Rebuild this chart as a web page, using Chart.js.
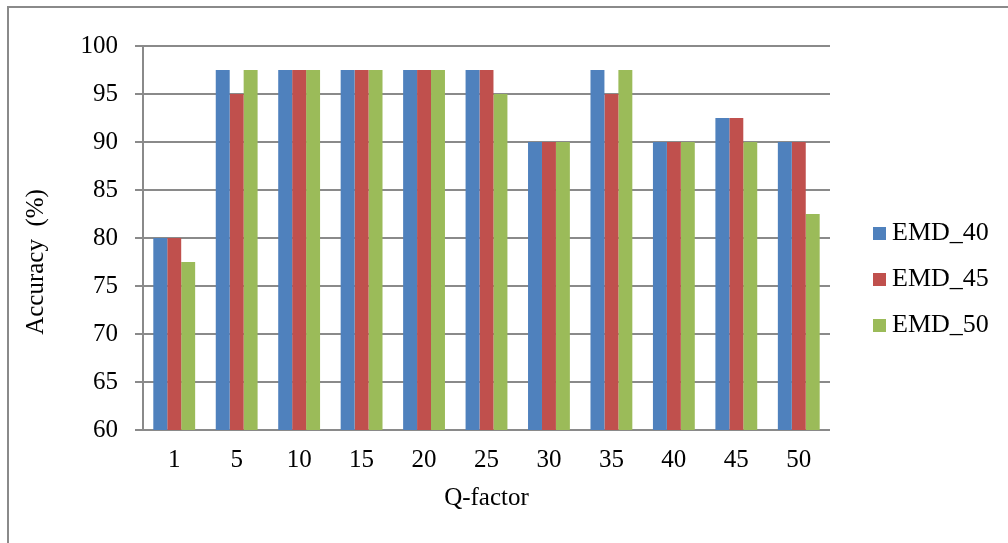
<!DOCTYPE html>
<html>
<head>
<meta charset="utf-8">
<script src="https://cdn.jsdelivr.net/npm/chart.js@4.4.1/dist/chart.umd.min.js"></script>
<style>
  html, body { margin: 0; padding: 0; background: #ffffff; }
  #wrap { position: relative; width: 1008px; height: 543px; overflow: hidden; }
  #frame { position: absolute; left: 7px; top: 6px; width: 1100px; height: 700px;
           border: 2px solid #8a8a8a; box-sizing: border-box; pointer-events: none; }
  canvas { position: absolute; left: 0; top: 0; }
</style>
</head>
<body>
<div id="wrap">
  <canvas id="chart" width="1008" height="543"></canvas>
  <div id="frame"></div>
</div>
<script>
// Q-factor categories and classification accuracy (%) per EMD setting
const qFactors = ['1', '5', '10', '15', '20', '25', '30', '35', '40', '45', '50'];
const emd40 = [80, 97.5, 97.5, 97.5, 97.5, 97.5, 90, 97.5, 90, 92.5, 90];
const emd45 = [80, 95, 97.5, 97.5, 97.5, 97.5, 90, 95, 90, 92.5, 90];
const emd50 = [77.5, 97.5, 97.5, 97.5, 97.5, 95, 90, 97.5, 90, 90, 82.5];
const seriesNames = ['EMD_40', 'EMD_45', 'EMD_50'];
const seriesColors = ['#4F81BD', '#C0504D', '#9BBB59'];
const yTicks = [60, 65, 70, 75, 80, 85, 90, 95, 100];

const FONT = "'Liberation Serif', 'Times New Roman', serif";
const FONT_SIZE = 25;
const LEGEND_SIZE = 26;
const GRID = '#8a8a8a';

// Axis titles and legend drawn in Excel-like positions
const decorations = {
  id: 'decorations',
  afterDraw(chart) {
    const ctx = chart.ctx;
    const area = chart.chartArea;
    ctx.save();
    ctx.fillStyle = '#000';
    ctx.font = FONT_SIZE + 'px ' + FONT;
    ctx.textAlign = 'center';
    ctx.textBaseline = 'middle';
    // x title
    ctx.fillText('Q-factor', (area.left + area.right) / 2, 498);
    // y title
    ctx.save();
    ctx.translate(36, 262);
    ctx.rotate(-Math.PI / 2);
    ctx.fillText('Accuracy  (%)', 0, 0);
    ctx.restore();
    // legend
    ctx.font = LEGEND_SIZE + 'px ' + FONT;
    ctx.textAlign = 'left';
    chart.data.datasets.forEach((ds, i) => {
      const cy = 233 + i * 46;
      ctx.fillStyle = ds.backgroundColor;
      ctx.fillRect(873, cy - 6, 13, 13);
      ctx.fillStyle = '#000';
      ctx.fillText(ds.label, 892, cy);
    });
    ctx.restore();
  }
};

const datasets = [emd40, emd45, emd50].map((values, i) => ({
  label: seriesNames[i],
  data: values,
  backgroundColor: seriesColors[i],
  borderWidth: 0,
  categoryPercentage: 0.67,
  barPercentage: 1.0
}));

new Chart(document.getElementById('chart'), {
  type: 'bar',
  data: { labels: qFactors, datasets: datasets },
  options: {
    responsive: false,
    animation: false,
    layout: { padding: { top: 46, right: 178, bottom: 0, left: 0 } },
    plugins: { legend: { display: false }, tooltip: { enabled: false } },
    scales: {
      x: {
        grid: { display: false, drawTicks: false },
        border: { display: false },
        ticks: { color: '#000', font: { family: FONT, size: FONT_SIZE }, padding: 15, maxRotation: 0 },
        afterFit(scale) { scale.height = 113; }
      },
      y: {
        min: 60,
        max: 100,
        afterBuildTicks(scale) { scale.ticks = yTicks.map(v => ({ value: v })); },
        grid: { color: GRID, lineWidth: 2, tickLength: 8, drawTicks: true },
        border: { display: true, color: GRID, width: 2 },
        ticks: { color: '#000', font: { family: FONT, size: FONT_SIZE }, padding: 17 },
        afterFit(scale) { scale.width = 143; }
      }
    }
  },
  plugins: [decorations]
});
</script>
</body>
</html>
